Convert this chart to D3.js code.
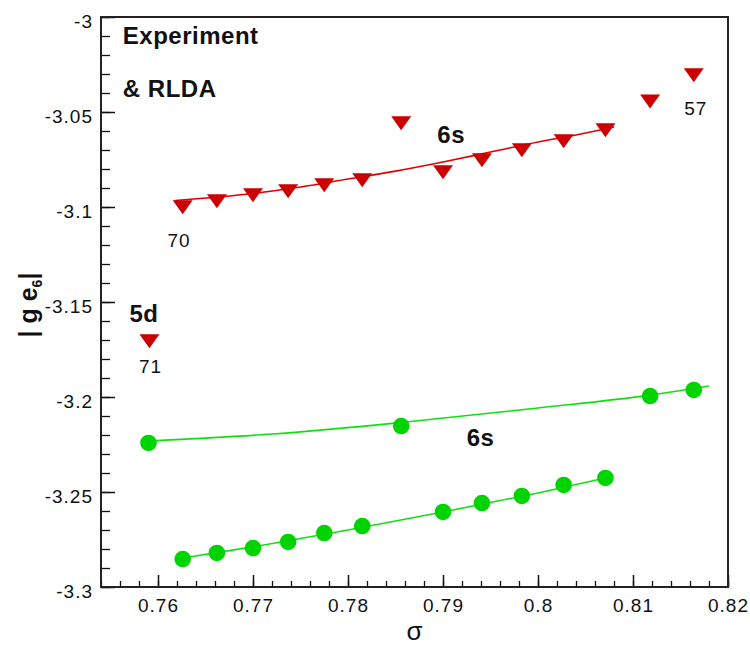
<!DOCTYPE html>
<html>
<head>
<meta charset="utf-8">
<script src="https://cdn.jsdelivr.net/npm/d3@7"></script>
<style>
  html, body { margin: 0; padding: 0; background: #fff; }
  svg { display: block; }
  text { font-family: "Liberation Sans", Arial, sans-serif; fill: #111; }
</style>
</head>
<body>
<svg id="chart" width="750" height="647"></svg>
<script>
// ---- Data ----
const xTicks = [0.76, 0.77, 0.78, 0.79, 0.8, 0.81, 0.82];
const xTickLabels = ["0.76", "0.77", "0.78", "0.79", "0.8", "0.81", "0.82"];
const yTicks = [-3, -3.05, -3.1, -3.15, -3.2, -3.25, -3.3];
const yTickLabels = ["-3", "-3.05", "-3.1", "-3.15", "-3.2", "-3.25", "-3.3"];

// Red triangles (6s experiment)
const redSigma = [0.7626, 0.7662, 0.7700, 0.7737, 0.7775, 0.7815, 0.7856, 0.7900, 0.7941, 0.7983, 0.8027, 0.8071, 0.8118, 0.8164];
const redValue = [-3.0989, -3.0958, -3.0926, -3.0905, -3.0874, -3.0847, -3.0547, -3.0805, -3.0742, -3.0689, -3.0642, -3.0584, -3.0432, -3.0295];
// Red 5d point
const red5dSigma = [0.7591];
const red5dValue = [-3.1695];
// Red fit curve
const redFitSigma = [0.7618, 0.7700, 0.7750, 0.7800, 0.7850, 0.7900, 0.7950, 0.8000, 0.8040, 0.8080];
const redFitValue = [-3.0966, -3.0929, -3.0895, -3.0853, -3.0811, -3.0763, -3.0711, -3.0658, -3.0621, -3.0579];

// Green circles, upper series
const greenUpSigma = [0.7590, 0.7856, 0.8118, 0.8164];
const greenUpValue = [-3.2242, -3.2153, -3.1995, -3.1963];
const greenUpFitSigma = [0.7590, 0.7720, 0.7856, 0.8000, 0.8118, 0.8180];
const greenUpFitValue = [-3.2232, -3.2195, -3.2134, -3.2058, -3.1990, -3.1942];

// Green circles, lower series
const greenLowSigma = [0.7626, 0.7662, 0.7700, 0.7737, 0.7775, 0.7815, 0.7900, 0.7941, 0.7983, 0.8027, 0.8071];
const greenLowValue = [-3.2853, -3.2821, -3.2795, -3.2763, -3.2716, -3.2679, -3.2605, -3.2558, -3.2521, -3.2463, -3.2426];
const greenLowFitSigma = [0.7626, 0.7700, 0.7800, 0.7900, 0.8000, 0.8071];
const greenLowFitValue = [-3.2847, -3.2789, -3.2700, -3.2605, -3.2505, -3.2426];

// Annotations
const annotations = [
  { text: "Experiment", sigma: 0.7563, value: -3.0143, bold: true },
  { text: "& RLDA", sigma: 0.7563, value: -3.0421, bold: true },
  { text: "6s", sigma: 0.7894, value: -3.0663, bold: true },
  { text: "6s", sigma: 0.7925, value: -3.2258, bold: true },
  { text: "5d", sigma: 0.7570, value: -3.1605, bold: true },
  { text: "70", sigma: 0.7610, value: -3.1211, bold: false },
  { text: "71", sigma: 0.7580, value: -3.1874, bold: false },
  { text: "57", sigma: 0.8154, value: -3.0516, bold: false }
];

// ---- Layout ----
const L = 101, R = 728, T = 17, B = 587;
const RED = "#cc0000", RED_LINE = "#e00000";
const GREEN = "#00d400", GREEN_LINE = "#10e010";

const svg = d3.select("#chart");
const x = d3.scaleLinear().domain([0.754, 0.82]).range([L, R]);
const y = d3.scaleLinear().domain([-3.3, -3.0]).range([B, T]);

// Minor ticks
const xMinor = d3.range(0, 34).map(i => +(0.754 + i * 0.002).toFixed(3)).filter(v => v <= 0.82);
const yMinor = d3.range(0, 31).map(i => +(-3.3 + i * 0.01).toFixed(2));

svg.append("g").attr("transform", `translate(0,${B})`)
  .call(d3.axisBottom(x).tickValues(xMinor).tickSize(-6).tickFormat(""))
  .call(g => g.select(".domain").remove())
  .selectAll("line").attr("stroke", "#111").attr("stroke-width", 1.3);

svg.append("g").attr("transform", `translate(${L},0)`)
  .call(d3.axisLeft(y).tickValues(yMinor).tickSize(-9).tickFormat(""))
  .call(g => g.select(".domain").remove())
  .selectAll("line").attr("stroke", "#111").attr("stroke-width", 1.3);

// Major ticks + labels
const xAxis = svg.append("g").attr("transform", `translate(0,${B})`)
  .call(d3.axisBottom(x).tickValues(xTicks).tickSize(-12).tickPadding(11.5)
    .tickFormat((d, i) => xTickLabels[i]));
xAxis.select(".domain").remove();
xAxis.selectAll("line").attr("stroke", "#111").attr("stroke-width", 1.5);
xAxis.selectAll("text").attr("font-size", 19).attr("letter-spacing", 1)
  .attr("font-family", "Liberation Sans, Arial, sans-serif").attr("fill", "#111");

const yAxis = svg.append("g").attr("transform", `translate(${L},0)`)
  .call(d3.axisLeft(y).tickValues(yTicks).tickSize(-14).tickPadding(8)
    .tickFormat((d, i) => yTickLabels[i]));
yAxis.select(".domain").remove();
yAxis.selectAll("line").attr("stroke", "#111").attr("stroke-width", 1.5);
yAxis.selectAll("text").attr("font-size", 19).attr("letter-spacing", 1)
  .attr("dy", "0.55em")
  .attr("font-family", "Liberation Sans, Arial, sans-serif").attr("fill", "#111");

// Frame
svg.append("rect").attr("x", L).attr("y", T).attr("width", R - L).attr("height", B - T)
  .attr("fill", "none").attr("stroke", "#222").attr("stroke-width", 2);

// Lines
const zip = (a, b) => a.map((v, i) => [v, b[i]]);
const smooth = d3.line().curve(d3.curveMonotoneX).x(d => x(d[0])).y(d => y(d[1]));
const straight = d3.line().x(d => x(d[0])).y(d => y(d[1]));

svg.append("path").datum(zip(redFitSigma, redFitValue)).attr("d", smooth)
  .attr("fill", "none").attr("stroke", RED_LINE).attr("stroke-width", 1.6);
svg.append("path").datum(zip(greenUpFitSigma, greenUpFitValue)).attr("d", smooth)
  .attr("fill", "none").attr("stroke", GREEN_LINE).attr("stroke-width", 1.6);
svg.append("path").datum(zip(greenLowFitSigma, greenLowFitValue)).attr("d", straight)
  .attr("fill", "none").attr("stroke", GREEN_LINE).attr("stroke-width", 1.6);

// Markers
const triPath = "M-10,-4.7 L10,-4.7 L0,9.3 Z";
svg.append("g").selectAll("path.tri")
  .data(zip(redSigma, redValue).concat(zip(red5dSigma, red5dValue)))
  .join("path").attr("class", "tri")
  .attr("transform", d => `translate(${x(d[0])},${y(d[1])})`)
  .attr("d", triPath).attr("fill", RED);

svg.append("g").selectAll("circle")
  .data(zip(greenUpSigma, greenUpValue).concat(zip(greenLowSigma, greenLowValue)))
  .join("circle")
  .attr("cx", d => x(d[0])).attr("cy", d => y(d[1])).attr("r", 8.3)
  .attr("fill", GREEN);

// Annotations
svg.append("g").selectAll("text")
  .data(annotations).join("text")
  .attr("x", d => x(d.sigma)).attr("y", d => y(d.value))
  .attr("font-size", d => d.bold ? 24 : 19)
  .attr("font-weight", d => d.bold ? "bold" : "normal")
  .attr("letter-spacing", d => d.bold ? 0.5 : 1)
  .text(d => d.text);

// Axis titles
svg.append("text").attr("x", (L + R) / 2).attr("y", 640)
  .attr("text-anchor", "middle")
  .attr("font-family", "Liberation Serif, serif")
  .attr("font-size", 26).text("σ");

const yt = svg.append("text").attr("transform", "translate(37,305) rotate(-90)")
  .attr("text-anchor", "middle").attr("font-size", 25).attr("font-weight", "bold");
yt.append("tspan").text("| g e");
yt.append("tspan").attr("font-size", 14).attr("dy", 5).text("6");
yt.append("tspan").attr("dy", -5).text("|");
</script>
</body>
</html>
